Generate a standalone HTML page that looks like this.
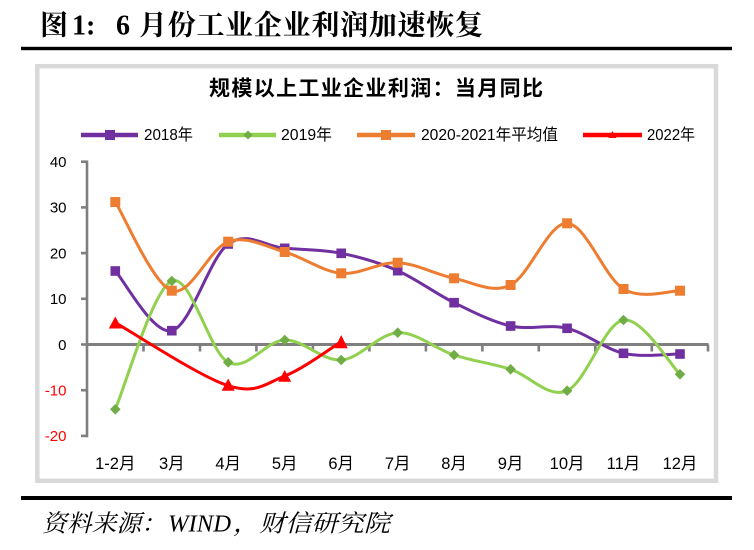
<!DOCTYPE html>
<html><head><meta charset="utf-8">
<style>
html,body{margin:0;padding:0;background:#fff;}
svg{display:block;}
</style></head>
<body>
<svg width="754" height="550" viewBox="0 0 754 550" xmlns="http://www.w3.org/2000/svg">
<rect width="754" height="550" fill="#fff"/>
<!-- Title -->
<g font-family="'Liberation Serif','Noto Serif CJK SC',serif" font-weight="bold" font-size="28" fill="#000">
<text x="40" y="34.5">图</text>
<text x="72" y="34.5">1:</text>
<text x="116" y="34.5">6</text>
<text x="139" y="34.5" textLength="344" lengthAdjust="spacing">月份工业企业利润加速恢复</text>
</g>
<rect x="21" y="46.8" width="711" height="3.4" fill="#000"/>
<!-- chart frame -->
<rect x="37.3" y="66.2" width="678.7" height="414.6" fill="#fff" stroke="#d9d9d9" stroke-width="4.5"/>
<!-- chart title -->
<text x="209" y="95.5" textLength="334" lengthAdjust="spacing" font-family="'Liberation Sans','Noto Sans CJK SC',sans-serif" font-weight="bold" font-size="21" fill="#000">规模以上工业企业利润：当月同比</text>
<!-- legend -->
<g font-family="'Liberation Sans','Noto Sans CJK SC',sans-serif" font-size="16" fill="#000">
<line x1="81" y1="135" x2="138" y2="135" stroke="#7030A0" stroke-width="4.5"/>
<rect x="105" y="130" width="10" height="10" fill="#7030A0"/>
<text x="144" y="140" textLength="49" lengthAdjust="spacingAndGlyphs">2018年</text>
<line x1="219" y1="135" x2="276" y2="135" stroke="#92D050" stroke-width="4.5"/>
<polygon points="248,130.5 252.5,135 248,139.5 243.5,135" fill="#70AD47"/>
<text x="281" y="140" textLength="51" lengthAdjust="spacingAndGlyphs">2019年</text>
<line x1="357" y1="135" x2="415" y2="135" stroke="#ED7D31" stroke-width="4.5"/>
<rect x="381" y="130" width="10" height="10" fill="#ED7D31"/>
<text x="421" y="140" textLength="137" lengthAdjust="spacingAndGlyphs">2020-2021年平均值</text>
<line x1="583" y1="135" x2="642" y2="135" stroke="#FF0000" stroke-width="4.5"/>
<polygon points="612.5,131 616.5,138 608.5,138" fill="#FF0000"/>
<text x="647" y="140" textLength="48" lengthAdjust="spacingAndGlyphs">2022年</text>
</g>
<!-- y axis labels -->
<g font-family="'Liberation Sans',sans-serif" font-size="15" text-anchor="end">
<text x="66.5" y="167" fill="#000">40</text>
<text x="66.5" y="212.7" fill="#000">30</text>
<text x="66.5" y="258.4" fill="#000">20</text>
<text x="66.5" y="304.1" fill="#000">10</text>
<text x="66.5" y="349.8" fill="#000">0</text>
<text x="66.5" y="395.5" fill="#FF0000">-10</text>
<text x="66.5" y="441.2" fill="#FF0000">-20</text>
</g>
<!-- axes -->
<g stroke="#7f7f7f" stroke-width="2.6" fill="none">
<line x1="87" y1="160.5" x2="87" y2="437.2"/>
<line x1="81" y1="161.7" x2="87" y2="161.7"/>
<line x1="81" y1="207.4" x2="87" y2="207.4"/>
<line x1="81" y1="253.1" x2="87" y2="253.1"/>
<line x1="81" y1="298.8" x2="87" y2="298.8"/>
<line x1="81" y1="344.5" x2="87" y2="344.5"/>
<line x1="81" y1="390.2" x2="87" y2="390.2"/>
<line x1="81" y1="435.9" x2="87" y2="435.9"/>
<line x1="87" y1="344.5" x2="708.5" y2="344.5" stroke-width="3"/>
<line x1="143.5" y1="344.5" x2="143.5" y2="351.5"/>
<line x1="200" y1="344.5" x2="200" y2="351.5"/>
<line x1="256.4" y1="344.5" x2="256.4" y2="351.5"/>
<line x1="312.9" y1="344.5" x2="312.9" y2="351.5"/>
<line x1="369.4" y1="344.5" x2="369.4" y2="351.5"/>
<line x1="425.9" y1="344.5" x2="425.9" y2="351.5"/>
<line x1="482.4" y1="344.5" x2="482.4" y2="351.5"/>
<line x1="538.8" y1="344.5" x2="538.8" y2="351.5"/>
<line x1="595.3" y1="344.5" x2="595.3" y2="351.5"/>
<line x1="651.8" y1="344.5" x2="651.8" y2="351.5"/>
<line x1="708" y1="344.5" x2="708" y2="351.5"/>
</g>
<!-- x labels -->
<g font-family="'Liberation Sans','Noto Sans CJK SC',sans-serif" font-size="16.5" text-anchor="middle" fill="#000">
<text x="115.3" y="469">1-2月</text>
<text x="171.8" y="469">3月</text>
<text x="228.2" y="469">4月</text>
<text x="284.7" y="469">5月</text>
<text x="341.2" y="469">6月</text>
<text x="397.7" y="469">7月</text>
<text x="454.1" y="469">8月</text>
<text x="510.6" y="469">9月</text>
<text x="567.1" y="469">10月</text>
<text x="623.5" y="469">11月</text>
<text x="680" y="469">12月</text>
</g>
<!-- series 2018 -->
<path fill="none" stroke="#7030A0" stroke-width="3" stroke-linejoin="round" d="M115.3,271 C124.7,280.95 153.0,335.2 171.8,330.7 C190.6,326.2 209.4,257.73 228.2,244 C247.0,230.27 265.9,246.75 284.7,248.3 C303.5,249.85 322.4,249.57 341.2,253.3 C360.0,257.03 378.9,262.47 397.7,270.7 C416.5,278.93 435.3,293.48 454.1,302.7 C472.9,311.92 491.8,321.73 510.6,326 C529.4,330.27 548.3,323.75 567.1,328.3 C585.9,332.85 604.7,349.02 623.5,353.3 C642.3,357.58 670.6,353.88 680,354"/>
<g fill="#7030A0">
<rect x="110.5" y="266.2" width="9.6" height="9.6"/>
<rect x="167" y="325.9" width="9.6" height="9.6"/>
<rect x="223.4" y="239.2" width="9.6" height="9.6"/>
<rect x="279.9" y="243.5" width="9.6" height="9.6"/>
<rect x="336.4" y="248.5" width="9.6" height="9.6"/>
<rect x="392.9" y="265.9" width="9.6" height="9.6"/>
<rect x="449.3" y="297.9" width="9.6" height="9.6"/>
<rect x="505.8" y="321.2" width="9.6" height="9.6"/>
<rect x="562.3" y="323.5" width="9.6" height="9.6"/>
<rect x="618.7" y="348.5" width="9.6" height="9.6"/>
<rect x="675.2" y="349.2" width="9.6" height="9.6"/>
</g>
<!-- series 2019 -->
<path fill="none" stroke="#92D050" stroke-width="3" stroke-linejoin="round" d="M115.3,409.3 C124.7,387.92 153.0,288.83 171.8,281 C190.6,273.17 209.4,352.47 228.2,362.3 C247.0,372.13 265.9,340.38 284.7,340 C303.5,339.62 322.4,361.22 341.2,360 C360.0,358.78 378.9,333.53 397.7,332.7 C416.5,331.87 435.3,348.9 454.1,355 C472.9,361.1 491.8,363.35 510.6,369.3 C529.4,375.25 548.3,398.92 567.1,390.7 C585.9,382.48 604.7,322.73 623.5,320 C642.3,317.27 670.6,365.25 680,374.3"/>
<g fill="#70AD47">
<polygon points="115.3,404 120.6,409.3 115.3,414.6 110,409.3"/>
<polygon points="171.8,275.7 177.1,281 171.8,286.3 166.5,281"/>
<polygon points="228.2,357 233.5,362.3 228.2,367.6 222.9,362.3"/>
<polygon points="284.7,334.7 290,340 284.7,345.3 279.4,340"/>
<polygon points="341.2,354.7 346.5,360 341.2,365.3 335.9,360"/>
<polygon points="397.7,327.4 403,332.7 397.7,338 392.4,332.7"/>
<polygon points="454.1,349.7 459.4,355 454.1,360.3 448.8,355"/>
<polygon points="510.6,364 515.9,369.3 510.6,374.6 505.3,369.3"/>
<polygon points="567.1,385.4 572.4,390.7 567.1,396 561.8,390.7"/>
<polygon points="623.5,314.7 628.8,320 623.5,325.3 618.2,320"/>
<polygon points="680,369 685.3,374.3 680,379.6 674.7,374.3"/>
</g>
<!-- series 2020-2021 -->
<path fill="none" stroke="#ED7D31" stroke-width="3" stroke-linejoin="round" d="M115.3,202 C124.7,216.78 153.0,284.08 171.8,290.7 C190.6,297.32 209.4,248.15 228.2,241.7 C247.0,235.25 265.9,246.73 284.7,252 C303.5,257.27 322.4,271.52 341.2,273.3 C360.0,275.08 378.9,261.87 397.7,262.7 C416.5,263.53 435.3,274.58 454.1,278.3 C472.9,282.02 491.8,294.17 510.6,285 C529.4,275.83 548.3,222.63 567.1,223.3 C585.9,223.97 604.7,277.77 623.5,289 C642.3,300.23 670.6,290.42 680,290.7"/>
<g fill="#ED7D31">
<rect x="110.3" y="197" width="10" height="10"/>
<rect x="166.8" y="285.7" width="10" height="10"/>
<rect x="223.2" y="236.7" width="10" height="10"/>
<rect x="279.7" y="247" width="10" height="10"/>
<rect x="336.2" y="268.3" width="10" height="10"/>
<rect x="392.7" y="257.7" width="10" height="10"/>
<rect x="449.1" y="273.3" width="10" height="10"/>
<rect x="505.6" y="280" width="10" height="10"/>
<rect x="562.1" y="218.3" width="10" height="10"/>
<rect x="618.5" y="284" width="10" height="10"/>
<rect x="675" y="285.7" width="10" height="10"/>
</g>
<!-- series 2022 -->
<path fill="none" stroke="#FF0000" stroke-width="3" stroke-linejoin="round" d="M115.3,322.7 C134.1,333.2 200.0,376.82 228.2,385.7 C256.4,394.58 265.9,383.33 284.7,376 C303.5,368.67 331.8,347.42 341.2,341.7"/>
<g fill="#FF0000">
<polygon points="115.3,316.5 121.8,328.5 108.8,328.5"/>
<polygon points="228.2,378.5 234.7,390.7 221.7,390.7"/>
<polygon points="284.7,370 291.2,381.7 278.2,381.7"/>
<polygon points="341.2,335 347.7,348.3 334.7,348.3"/>
</g>
<!-- bottom rule and source -->
<rect x="21" y="496" width="711" height="4" fill="#000"/>
<g font-family="'Liberation Serif','Noto Serif CJK SC',serif" font-style="italic" font-size="24" fill="#000">
<text x="42" y="531.5" textLength="124" lengthAdjust="spacingAndGlyphs">资料来源：</text>
<text x="168" y="531.5" textLength="63" lengthAdjust="spacingAndGlyphs">WIND</text>
<text x="233" y="531.5" textLength="157" lengthAdjust="spacingAndGlyphs">，财信研究院</text>
</g>
</svg>
</body></html>
